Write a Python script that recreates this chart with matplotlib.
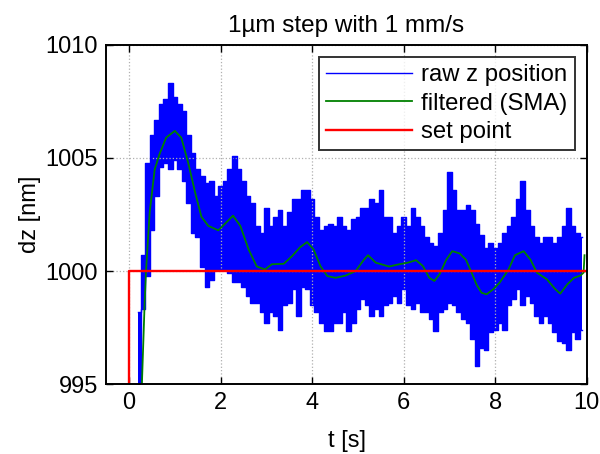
import numpy as np
import matplotlib
matplotlib.use("Agg")
import matplotlib.pyplot as plt

plt.rcParams['font.family'] = ['Liberation Sans', 'DejaVu Sans']

# raw z position: band of the noisy signal, sampled every 0.1 s (upper / lower edge)
t_raw = np.round(np.arange(0.2, 9.95, 0.1), 1)
raw_upper = [
    998.2, 1000.7, 1004.8, 1006.0, 1006.7, 1007.4, 1007.6, 1008.3, 1007.7, 1007.4,
    1007.1, 1006.0, 1005.2, 1004.5, 1004.2, 1003.9, 1004.0, 1003.3, 1003.75, 1004.0,
    1004.5, 1005.1, 1004.5, 1004.0, 1003.3, 1003.0, 1002.0, 1001.7, 1002.8, 1002.0,
    1002.4, 1002.7, 1002.0, 1002.6, 1003.2, 1003.2, 1003.6, 1003.6, 1003.2, 1002.4,
    1001.8, 1002.0, 1002.1, 1002.0, 1002.4, 1002.0, 1001.8, 1002.3, 1002.4, 1002.8,
    1002.8, 1003.2, 1003.0, 1003.6, 1002.4, 1002.4, 1001.7, 1002.0, 1002.4, 1002.0,
    1002.8, 1002.4, 1002.0, 1001.5, 1001.25, 1001.1, 1001.7, 1002.7, 1004.4, 1003.6,
    1002.7, 1002.7, 1002.9, 1002.7, 1002.1, 1001.6, 1001.0, 1001.25, 1001.0, 1001.25,
    1001.7, 1002.0, 1002.4, 1003.2, 1004.0, 1002.7, 1002.0, 1001.5, 1001.25, 1001.5,
    1001.5, 1001.25, 1001.5, 1002.0, 1002.8, 1002.0, 1001.7, 1001.5,
]
raw_lower = [
    990.0, 998.3, 999.8, 1001.8, 1003.3, 1004.6, 1004.8, 1004.5, 1004.9, 1004.5,
    1004.0, 1003.0, 1001.7, 1001.5, 1000.2, 999.3, 999.6, 1000.1, 1000.1, 1000.1,
    999.9, 999.5, 999.5, 999.3, 998.9, 998.6, 998.6, 998.2, 997.7, 998.2,
    998.0, 997.4, 998.5, 998.6, 999.2, 998.0, 999.3, 999.2, 998.5, 998.2,
    997.7, 997.35, 997.35, 997.7, 997.7, 998.2, 997.35, 997.7, 998.3, 998.75,
    998.5, 998.0, 998.3, 998.0, 998.5, 998.6, 998.9, 998.6, 999.2, 998.5,
    998.3, 998.6, 998.2, 998.2, 997.9, 997.35, 998.2, 998.3, 998.6, 998.5,
    998.2, 997.9, 997.7, 997.0, 995.8, 996.6, 996.5, 997.3, 997.4, 997.7,
    997.4, 998.5, 998.75, 999.2, 998.5, 998.9, 998.6, 998.0, 997.7, 998.0,
    997.7, 997.3, 996.9, 996.8, 996.5, 997.3, 997.0, 997.4,
]

# filtered signal (simple moving average)
t_sma = [0.28, 0.34, 0.37, 0.45, 0.56, 0.67, 0.81, 1.0, 1.14, 1.29,
         1.44, 1.58, 1.73, 1.95, 2.1, 2.27, 2.43, 2.61, 2.79, 2.97,
         3.12, 3.38, 3.56, 3.74, 3.89, 4.03, 4.18, 4.33, 4.51, 4.73,
         4.95, 5.13, 5.22, 5.39, 5.68, 5.9, 6.09, 6.27, 6.42, 6.56,
         6.67, 6.78, 6.93, 7.06, 7.22, 7.36, 7.5, 7.59, 7.7, 7.81,
         7.96, 8.1, 8.29, 8.43, 8.62, 8.77, 8.91, 9.13, 9.31, 9.42,
         9.57, 9.72, 9.86, 9.93, 9.95]
z_sma = [995.0, 998.6, 1000.0, 1002.6, 1004.5, 1005.2, 1005.9, 1006.2, 1005.9, 1004.8,
         1003.5, 1002.4, 1002.0, 1001.8, 1002.1, 1002.45, 1002.0, 1000.96, 1000.2, 1000.07,
         1000.3, 1000.32, 1000.66, 1001.06, 1001.28, 1000.96, 1000.22, 999.78, 999.7, 999.8,
         1000.0, 1000.5, 1000.7, 1000.37, 1000.2, 1000.3, 1000.37, 1000.48, 1000.22, 999.7,
         999.56, 999.85, 1000.5, 1000.88, 1000.78, 1000.5, 999.85, 999.4, 999.04, 998.97,
         999.2, 999.5, 1000.07, 1000.7, 1000.88, 1000.5, 999.93, 999.63, 999.2, 999.0,
         999.4, 999.7, 999.8, 999.93, 1000.7]

# set point: 1 um step at t = 0
t_set = [0.0, 0.0, 9.95]
z_set = [0.0, 1000.0, 1000.0]

xticks = [0, 2, 4, 6, 8, 10]
yticks = [995, 1000, 1005, 1010]

fig = plt.figure(figsize=(6, 4.54), dpi=100)
ax = fig.add_axes([0.177, 0.154, 0.801, 0.747])

blue = (0, 0, 1)
ax.fill_between(t_raw, raw_lower, raw_upper, step='mid', color=blue, lw=0)
ax.step(t_raw, raw_upper, where='mid', color=blue, lw=1.0, label='raw z position')
ax.step(t_raw, raw_lower, where='mid', color=blue, lw=1.0)
ax.plot(t_sma, z_sma, color=(0, 0.5, 0), lw=1.3, label='filtered (SMA)')
ax.plot(t_set, z_set, color=(1, 0, 0), lw=1.7, label='set point')

ax.set_xlim(-0.5, 10)
ax.set_ylim(995, 1010)
ax.set_xticks(xticks)
ax.set_yticks(yticks)
ax.tick_params(direction='in', length=5, width=1, top=True, right=True,
               labelsize=17, pad=6)
ax.grid(True, color='#b0b0b0', linestyle=':', linewidth=0.9)
for s in ax.spines.values():
    s.set_linewidth(1.4)

ax.set_title('1µm step with 1 mm/s', fontsize=17.5, pad=9)
ax.set_xlabel('t [s]', fontsize=17, labelpad=11)
ax.set_ylabel('dz [nm]', fontsize=17, labelpad=3)

leg = ax.legend(loc='upper right', fontsize=17.2, frameon=True, fancybox=False,
                edgecolor='black', borderpad=0.3, labelspacing=0.27,
                handlelength=3.6, handletextpad=0.38, borderaxespad=0.5)
leg.get_frame().set_linewidth(1.4)

fig.savefig('out.png', dpi=100)
